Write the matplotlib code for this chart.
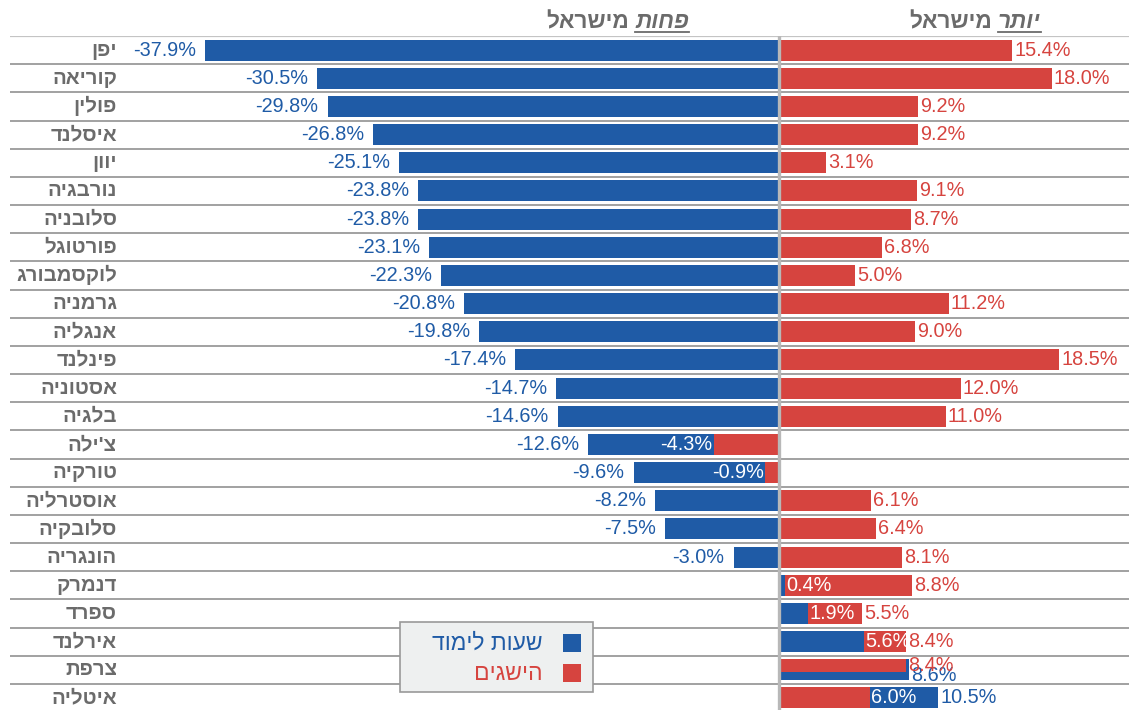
import numpy as np
import matplotlib
matplotlib.use('Agg')
import matplotlib.pyplot as plt
from matplotlib.patches import Rectangle
from matplotlib.lines import Line2D

plt.rcParams['font.family'] = ['Liberation Sans', 'DejaVu Sans']

# data (top to bottom)
countries = ['יפן', 'קוריאה', 'פולין', 'איסלנד', 'יוון', 'נורבגיה', 'סלובניה', 'פורטוגל',
             'לוקסמבורג', 'גרמניה', 'אנגליה', 'פינלנד', 'אסטוניה', 'בלגיה', "צ'ילה", 'טורקיה',
             'אוסטרליה', 'סלובקיה', 'הונגריה', 'דנמרק', 'ספרד', 'אירלנד', 'צרפת', 'איטליה']
hours = [-37.9, -30.5, -29.8, -26.8, -25.1, -23.8, -23.8, -23.1, -22.3, -20.8, -19.8, -17.4,
         -14.7, -14.6, -12.6, -9.6, -8.2, -7.5, -3.0, 0.4, 1.9, 5.6, 8.6, 10.5]
achievement = [15.4, 18.0, 9.2, 9.2, 3.1, 9.1, 8.7, 6.8, 5.0, 11.2, 9.0, 18.5,
               12.0, 11.0, -4.3, -0.9, 6.1, 6.4, 8.1, 8.8, 5.5, 8.4, 8.4, 6.0]
series_names = ['שעות לימוד', 'הישגים']
title_less = ('פחות', 'מישראל')
title_more = ('יותר', 'מישראל')

BLUE = '#1f5ba6'
RED = '#d6443f'
GRAY_TXT = '#6b6b6b'
W, H = 1129, 710


def rtl(s):
    return s[::-1]


def fx(px):
    return px / W


def fy(py):
    return 1 - py / H


fig = plt.figure(figsize=(W / 100, H / 100), dpi=100)
ax = fig.add_axes([fx(10), fy(712), 1 - fx(10), (712 - 36) / H])
n = len(countries)
ax.set_xlim((10 - 779) / 15.15, (1129 - 779) / 15.15)
ax.set_ylim(n - 0.5, -0.5)
ax.axis('off')

# row separators
ax.hlines(np.arange(n) + 0.5, *ax.get_xlim(), color='#9a9a9a', lw=1.3, zorder=1)
ax.hlines([-0.5], *ax.get_xlim(), color='#c4c4c4', lw=1.6, zorder=1)
ax.axvline(0, color='#b8b8b8', lw=2.4, zorder=5)

bh = 0.75
for i in range(n):
    b, r = hours[i], achievement[i]
    same = np.sign(b) == np.sign(r)
    vals = [(b, BLUE), (r, RED)]
    vals.sort(key=lambda v: -abs(v[0]))  # longer behind
    (v1, c1), (v2, c2) = vals
    close = same and abs(abs(v1) - abs(v2)) < 0.5
    ax.barh(i, v1, height=bh, color=c1, zorder=2)
    if close:
        h2 = bh * 0.6
        ax.barh(i - bh / 2 + h2 / 2, v2, height=h2, color=c2, zorder=3)
    else:
        ax.barh(i, v2, height=bh, color=c2, zorder=3)

    # labels
    for v, c, longer in [(v1, c1, True), (v2, c2, False)]:
        inner = same and not longer and not close
        col = 'white' if inner else c
        if v >= 0:
            off, ha = (1.0 if inner else 1.5), 'left'
        else:
            off, ha = (-1.0 if inner else -6.5), 'right'
        yy = i
        if close:
            yy = i - 0.15 if not longer else i + 0.22
        ax.annotate(f'{v:.1f}%', (v, yy), xytext=(off, 0), textcoords='offset points',
                    ha=ha, va='center', color=col, fontsize=14.3, zorder=6)

    ax.text(fx(117 - 10) / fx(W - 10), i, rtl(countries[i]),
            transform=ax.get_yaxis_transform(), ha='right', va='center',
            fontsize=14.7, fontweight='bold', color=GRAY_TXT)

# titles with underlined italic word
renderer = fig.canvas.get_renderer()


def title_piece(x_right, y, word, rest):
    t1 = fig.text(fx(x_right), fy(y), rtl(word), ha='right', va='baseline', fontsize=16.3,
                  fontweight='bold', style='italic', color=GRAY_TXT)
    bb = t1.get_window_extent(renderer)
    fig.add_artist(Line2D([bb.x0 / W, bb.x1 / W], [fy(y + 4)] * 2, color=GRAY_TXT, lw=1.3))
    fig.text((bb.x0 - 6) / W, fy(y), rtl(rest), ha='right', va='baseline', fontsize=16.3,
             fontweight='bold', color=GRAY_TXT)


title_piece(689, 28, *title_less)
title_piece(1041, 28, *title_more)

# legend (RTL: markers on the right)
fig.add_artist(Rectangle((fx(400), fy(692)), (593 - 400) / W, (692 - 622) / H,
                         transform=fig.transFigure, facecolor='#eef0f0', edgecolor='#999999', lw=1.2))
for k, (name, c) in enumerate(zip(series_names, [BLUE, RED])):
    yc = 643 + 30 * k
    fig.add_artist(Rectangle((fx(563), fy(yc + 9)), 18 / W, 18 / H,
                             transform=fig.transFigure, facecolor=c, edgecolor='none'))
    fig.text(fx(543), fy(yc), rtl(name), ha='right', va='center', fontsize=16.5, color=c)

fig.savefig('out.png', dpi=100)
